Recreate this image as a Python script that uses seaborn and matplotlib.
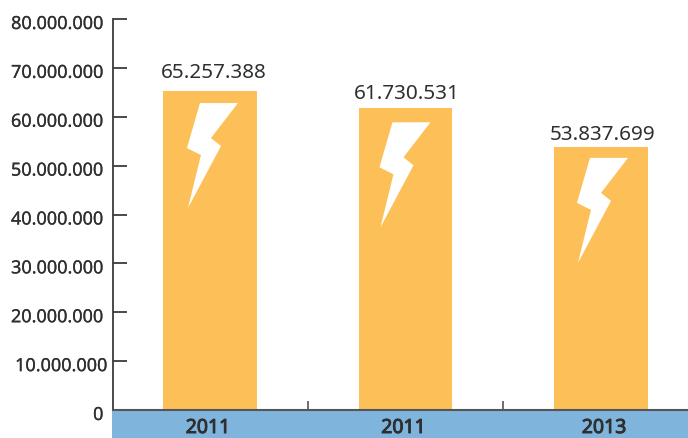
# --------------------------------------------------------------
# Importing Libraries
# --------------------------------------------------------------
import pandas as pd
import matplotlib.pyplot as plt
import matplotlib.patheffects as pe
import matplotlib.transforms as mtransforms
from matplotlib.patches import Polygon, Rectangle
from matplotlib.ticker import FuncFormatter
import seaborn as sns

# --------------------------------------------------------------
# Data
# --------------------------------------------------------------
positions = ["a", "b", "c"]
years = ["2011", "2011", "2013"]
values = [65257388, 61730531, 53837699]
value_labels = ["65.257.388", "61.730.531", "53.837.699"]
y_ticks = [0, 10000000, 20000000, 30000000, 40000000, 50000000, 60000000, 70000000, 80000000]

# lightning shape in pixels, relative to bar centre / bar top
bolt_shape = [(-10, 12), (28, 12), (1, 47), (11, 55), (-22, 117), (-9, 64), (-23, 57)]
bolt_nudge = [(0, 0), (-3, 2), (-1, -1)]
# label offsets in pixels (x from bar centre, y above bar top)
label_nudge = [(4, 13), (1, 9), (2, 7)]
year_nudge = [-2, -2, 3]

sns.set_theme(style="white")
plt.rcParams["font.family"] = ["Noto Sans", "DejaVu Sans"]

W, H = 688, 438
text_color = "#2f2f2f"
line_color = "#3c3c3c"

fig = plt.figure(figsize=(W / 100, H / 100), dpi=100)
ax = fig.add_axes([113 / W, (H - 410) / H, (688 - 113) / W, (410 - 19) / H])

df = pd.DataFrame({"pos": positions, "value": values})
sns.barplot(data=df, x="pos", y="value", color="#fdc058", saturation=1, width=0.48,
            linewidth=0, ax=ax)

ax.set_xlim(-0.496, 2.445)
ax.set_ylim(0, 80000000)
ax.set_xlabel("")
ax.set_ylabel("")
sns.despine(ax=ax, top=True, right=True)
ax.spines["left"].set_color(line_color)
ax.spines["left"].set_linewidth(1.3)
ax.spines["bottom"].set_color("#555555")
ax.spines["bottom"].set_linewidth(1.5)

ax.set_yticks(y_ticks)
ax.yaxis.set_major_formatter(FuncFormatter(lambda v, _: f"{int(v):,}".replace(",", ".")))
ax.tick_params(axis="y", direction="in", left=True, length=10, width=1.3, color=line_color,
               labelsize=13, labelcolor=text_color, pad=4)
# the 10.000.000 label sits closer to the axis than the others
for tick_value, tick_label in zip(y_ticks, ax.get_yticklabels()):
    shift = 0 if tick_value == 10000000 else -4
    tick_label.set_transform(tick_label.get_transform() + mtransforms.Affine2D().translate(shift, -3))
    tick_label.set_path_effects([pe.withStroke(linewidth=0.15, foreground=text_color)])

# separators between categories on the baseline
ax.set_xticks([0.5, 1.5])
ax.set_xticklabels(["", ""])
ax.tick_params(axis="x", direction="in", bottom=True, length=6.5, width=1.2, color="#555555")

# blue band below the axis
fig.add_artist(Rectangle((112 / W, 0), (W - 112) / W, (H - 410) / H, transform=fig.transFigure,
                         facecolor="#7fb4dd", edgecolor="none", zorder=0))

px = mtransforms.Affine2D().scale(1, -1)
for i, bar in enumerate(ax.patches):
    top = bar.get_height()
    cx = bar.get_x() + bar.get_width() / 2
    origin = ax.transData.transform((cx, top))
    trans = px + mtransforms.ScaledTranslation(origin[0] + bolt_nudge[i][0], origin[1] - bolt_nudge[i][1],
                                               mtransforms.IdentityTransform())
    ax.add_patch(Polygon(bolt_shape, closed=True, facecolor="white", edgecolor="none",
                         transform=trans, zorder=3))
    ax.annotate(value_labels[i], (cx, top), xytext=label_nudge[i], textcoords="offset pixels",
                ha="center", va="baseline", fontsize=14.9, color=text_color)
    ax.annotate(years[i], (cx, 0), xycoords="data", xytext=(year_nudge[i], -23),
                textcoords="offset pixels", ha="center", va="baseline", fontsize=14,
                color=text_color, annotation_clip=False,
                path_effects=[pe.withStroke(linewidth=0.7, foreground=text_color)])

plt.savefig("out.png", dpi=100)
